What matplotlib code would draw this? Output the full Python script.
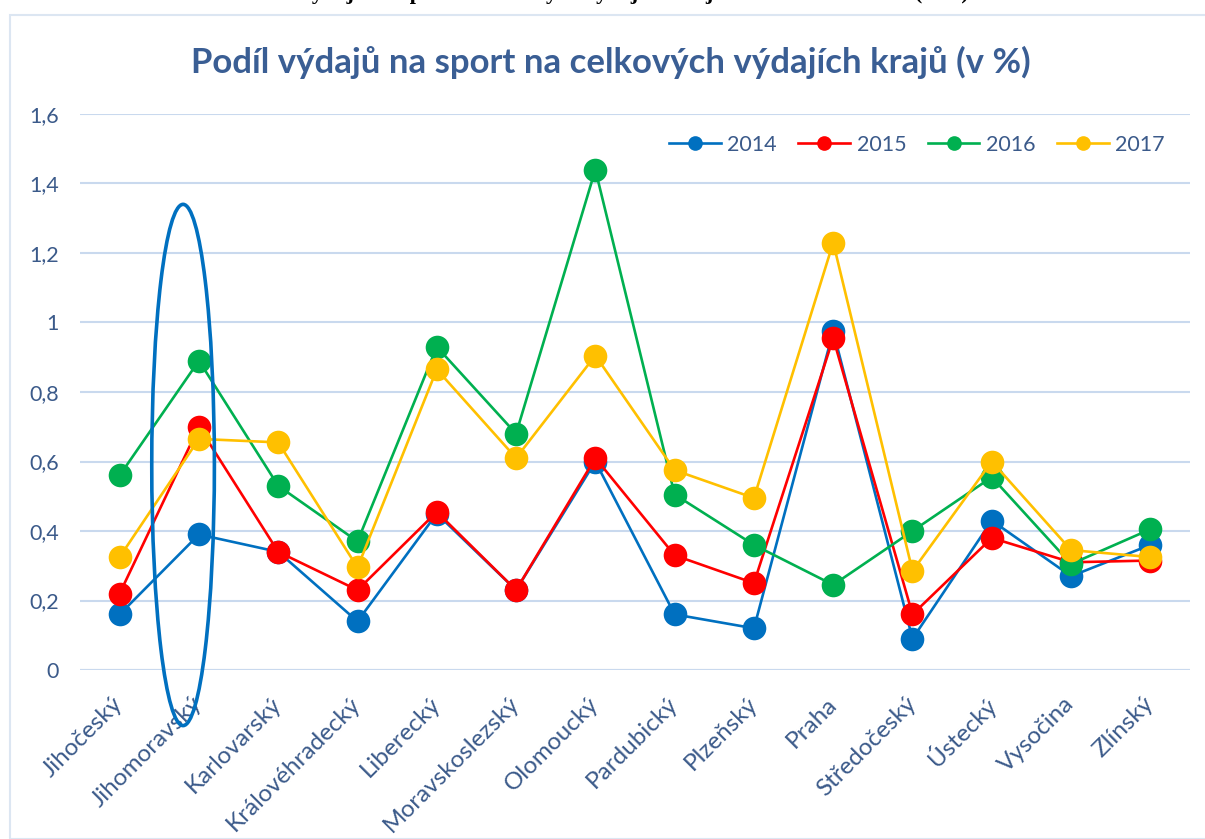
import matplotlib
matplotlib.use('Agg')
import matplotlib.pyplot as plt
from matplotlib.patches import Ellipse, Rectangle
from matplotlib.ticker import FuncFormatter

# ============================================================
# data
# ============================================================
kraje = ['Jihočeský', 'Jihomoravský', 'Karlovarský', 'Královéhradecký',
         'Liberecký', 'Moravskoslezský', 'Olomoucký', 'Pardubický',
         'Plzeňský', 'Praha', 'Středočeský', 'Ústecký', 'Vysočina', 'Zlínský']

v2014 = [0.16, 0.39, 0.34, 0.14, 0.45, 0.23, 0.60, 0.16, 0.12, 0.975, 0.09, 0.43, 0.27, 0.36]
v2015 = [0.22, 0.70, 0.34, 0.23, 0.455, 0.23, 0.61, 0.33, 0.25, 0.955, 0.16, 0.38, 0.31, 0.315]
v2016 = [0.56, 0.89, 0.53, 0.37, 0.93, 0.68, 1.44, 0.505, 0.36, 0.245, 0.40, 0.555, 0.305, 0.405]
v2017 = [0.325, 0.665, 0.655, 0.295, 0.865, 0.61, 0.905, 0.575, 0.495, 1.23, 0.285, 0.60, 0.345, 0.325]

years = ['2014', '2015', '2016', '2017']
series = [v2014, v2015, v2016, v2017]
colors = ['#0070C0', '#FF0000', '#00B050', '#FFC000']

txt_color = '#3B5A8A'
plt.rcParams['font.family'] = ['Lato', 'DejaVu Sans']

fig = plt.figure(figsize=(12.05, 8.39), dpi=100)
W, H = 1205.0, 839.0

# frame of the chart object (runs off right and bottom)
fig.patches.append(Rectangle((10 / W, 0), 1.2, 1 - 15 / H, transform=fig.transFigure,
                             fill=False, edgecolor='#DCE6F2', linewidth=1.5))

# caption line of the document, cut by the top edge (only descenders show)
fig.text(969 / W, 1 + 1 / H, 'Graf 9: Podíl výdajů na sport na celkových výdajích krajů v letech 2014–2017 (v %)',
         ha='right', va='baseline', fontsize=16, fontweight='bold',
         family='Liberation Serif', color='black')

ax = fig.add_axes([80 / W, (H - 670) / H, 1110 / W, (670 - 114) / H])
x = list(range(len(kraje)))

for yr, vals, c in zip(years, series, colors):
    ax.plot(x, vals, color=c, linewidth=1.9, marker='o', markersize=17,
            markeredgewidth=0, label=yr, zorder=3)

ax.set_xlim(-0.5, len(kraje) - 0.5)
ax.set_ylim(0, 1.6)
ax.set_yticks([0, 0.2, 0.4, 0.6, 0.8, 1.0, 1.2, 1.4, 1.6])
ax.yaxis.set_major_formatter(FuncFormatter(lambda v, p: ('%g' % round(v, 1)).replace('.', ',')))
ax.grid(True, axis='y', color='#C9D9EE', linewidth=1.5, zorder=0)
ax.axhline(0, color='#D9D9D9', linewidth=2.2, zorder=1)
for s in ax.spines.values():
    s.set_visible(False)
ax.tick_params(axis='both', length=0, labelsize=15.5, labelcolor=txt_color)
ax.tick_params(axis='y', pad=15)
ax.set_xticks(x)
ax.set_xticklabels(kraje, rotation=45, ha='right', va='center', rotation_mode='anchor',
                   fontsize=17.5)
ax.tick_params(axis='x', pad=22)

# highlight Jihomoravský
ax.add_patch(Ellipse((0.8, 0.59), 0.79, 1.5, fill=False, edgecolor='#0070C0',
                     linewidth=2.6, clip_on=False, zorder=4))

fig.text(611 / W, 1 - 62 / H, 'Podíl výdajů na sport na celkových výdajích krajů (v %)',
         ha='center', va='center', fontsize=25, fontweight='bold', color='#3A5E94')

leg = ax.legend(loc='center right', bbox_to_anchor=(1184 / W, 1 - 145 / H),
                bbox_transform=fig.transFigure, ncol=4, frameon=False,
                fontsize=15.5, markerscale=0.62, handlelength=2.4,
                handletextpad=0.3, columnspacing=1.0)
for t in leg.get_texts():
    t.set_color(txt_color)

plt.savefig('out.png', dpi=100)
